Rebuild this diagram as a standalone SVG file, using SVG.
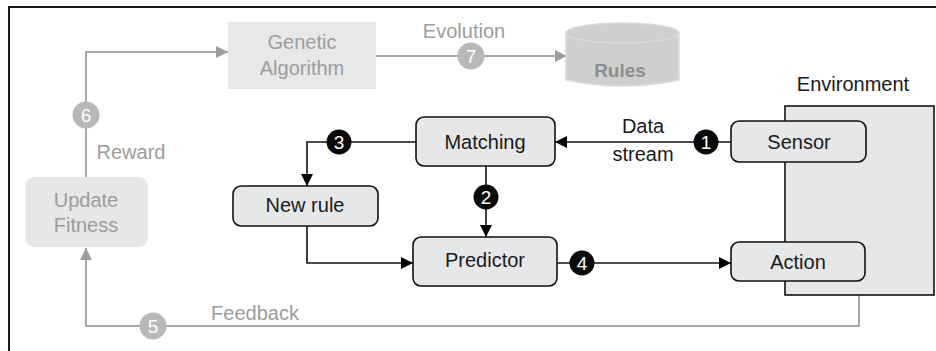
<svg xmlns="http://www.w3.org/2000/svg" width="936" height="351" viewBox="0 0 936 351">
<defs>
<marker id="ab" viewBox="0 0 12 12" refX="12" refY="6" markerWidth="12" markerHeight="12" markerUnits="userSpaceOnUse" orient="auto"><path d="M0,0 L12,6 L0,12 Z" fill="#000"/></marker>
<marker id="ag" viewBox="0 0 12 12" refX="12" refY="6" markerWidth="12" markerHeight="12" markerUnits="userSpaceOnUse" orient="auto"><path d="M0,0 L12,6 L0,12 Z" fill="#9d9d9d"/></marker>
</defs>
<style>
text{font-family:"Liberation Sans",Arial,sans-serif;font-size:20px;text-anchor:middle}
.t{fill:#1a1a1a}
.g{fill:#9c9c9c}
.box{fill:#e6e7e8;stroke:#111;stroke-width:1.6}
.bl{fill:none;stroke:#111;stroke-width:1.6}
.gl{fill:none;stroke:#a8a8a8;stroke-width:2}
.nb{fill:#0a0a0a}
.ng{fill:#b8b8b8}
.num{fill:#fff;font-size:19px}
</style>
<rect width="936" height="351" fill="#fff"/>
<path d="M9,351 V7 H936" fill="none" stroke="#1a1a1a" stroke-width="2"/>

<g id="connectors">
<path class="gl" d="M86,177 V52 H228" marker-end="url(#ag)"/>
<path class="gl" d="M376,56 H567" marker-end="url(#ag)"/>
<path class="gl" d="M859,295 V326 H86 V248" marker-end="url(#ag)"/>
<path class="bl" d="M731,142 H555" marker-end="url(#ab)"/>
<path class="bl" d="M416,142 H307 V186" marker-end="url(#ab)"/>
<path class="bl" d="M486,166 V237" marker-end="url(#ab)"/>
<path class="bl" d="M307,226 V263 H413" marker-end="url(#ab)"/>
<path class="bl" d="M557,263 H731" marker-end="url(#ab)"/>
</g>

<g id="labels">
<text class="g" x="131" y="159">Reward</text>
<text class="g" x="464" y="38">Evolution</text>
<text class="g" x="255" y="320">Feedback</text>
<text class="t" x="643" y="133">Data</text>
<text class="t" x="643" y="161">stream</text>
</g>

<g id="badges">
<circle class="ng" cx="86" cy="115" r="13.5"/><text class="num" x="86" y="122">6</text>
<circle class="ng" cx="471" cy="56" r="13.5"/><text class="num" x="471" y="63">7</text>
<circle class="ng" cx="153" cy="326" r="13.5"/><text class="num" x="153" y="333">5</text>
<circle class="nb" cx="706" cy="142" r="12.5"/><text class="num" x="706" y="149">1</text>
<circle class="nb" cx="486" cy="197" r="12.5"/><text class="num" x="486" y="204">2</text>
<circle class="nb" cx="339" cy="142" r="12.5"/><text class="num" x="339" y="149">3</text>
<circle class="nb" cx="582" cy="263" r="12.5"/><text class="num" x="582" y="270">4</text>
</g>

<g id="genetic-algorithm">
<rect x="228" y="22" width="148" height="67" fill="#e8e8e8"/>
<text class="g" x="302" y="49">Genetic</text>
<text class="g" x="302" y="75">Algorithm</text>
</g>

<g id="rules">
<path d="M566,33 V80 Q622,92 679,80 V33" fill="#cfcfcf" stroke="#dadada" stroke-width="1.5"/>
<ellipse cx="622.5" cy="33" rx="56.5" ry="10" fill="#cfcfcf" stroke="#dadada" stroke-width="1.5"/>
<text x="620" y="77" style="font-weight:bold;font-size:19px;fill:#8e8e8e">Rules</text>
</g>

<g id="update-fitness">
<rect x="25" y="177" width="123" height="70" rx="9" fill="#e6e7e8"/>
<text class="g" x="86" y="207">Update</text>
<text class="g" x="86" y="232">Fitness</text>
</g>

<g id="environment">
<rect x="785" y="106" width="149" height="189" fill="#e6e7e8" stroke="#111" stroke-width="1.6"/>
<text class="t" x="853" y="91">Environment</text>
</g>

<g id="sensor">
<rect class="box" x="731" y="121" width="135" height="41" rx="8"/>
<text class="t" x="799" y="149">Sensor</text>
</g>

<g id="action">
<rect class="box" x="731" y="242" width="134" height="39" rx="8"/>
<text class="t" x="798" y="269">Action</text>
</g>

<g id="matching">
<rect class="box" x="416" y="117" width="139" height="49" rx="8"/>
<text class="t" x="485" y="149">Matching</text>
</g>

<g id="new-rule">
<rect class="box" x="233" y="186" width="145" height="40" rx="8"/>
<text class="t" x="305" y="212">New rule</text>
</g>

<g id="predictor">
<rect class="box" x="413" y="237" width="144" height="49" rx="8"/>
<text class="t" x="485" y="267">Predictor</text>
</g>
</svg>
